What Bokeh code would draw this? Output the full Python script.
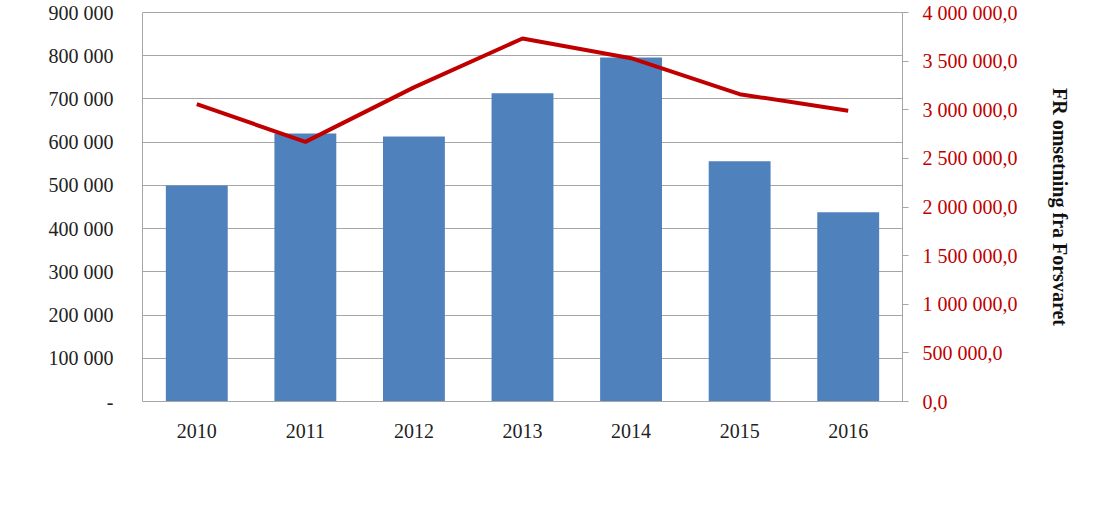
import math
from bokeh.plotting import figure
from bokeh.models import (Range1d, FactorRange, LinearAxis, FixedTicker, CustomJSTickFormatter,
                          Legend, LegendItem, Label, ColumnDataSource)
from bokeh.embed import file_html
from bokeh.resources import INLINE

years = ["2010", "2011", "2012", "2013", "2014", "2015", "2016"]
samfinansiert = [500000, 620000, 613000, 713000, 796000, 556000, 438000]
forsvarsrelatert = [3057000, 2670000, 3230000, 3733000, 3530000, 3160000, 2990000]
left_ticks = [0, 100000, 200000, 300000, 400000, 500000, 600000, 700000, 800000, 900000]
right_ticks = [0, 500000, 1000000, 1500000, 2000000, 2500000, 3000000, 3500000, 4000000]

FONT = "Liberation Serif"
BLUE = "#4F81BD"
RED = "#C00000"
GRID = "#A6A6A6"

src = ColumnDataSource(dict(year=years, sam=samfinansiert, fr=forsvarsrelatert))

p = figure(width=1086, height=490,
           x_range=FactorRange(factors=years, range_padding=0),
           y_range=Range1d(0, 900000),
           output_backend="svg", toolbar_location=None,
           min_border_left=142, min_border_top=12, min_border_right=184, min_border_bottom=89)
p.extra_y_ranges = {"r": Range1d(0, 4000000)}

p.outline_line_color = GRID
p.background_fill_color = "white"
p.xgrid.grid_line_color = None
p.ygrid.grid_line_color = GRID
p.ygrid.ticker = FixedTicker(ticks=left_ticks)

# left axis
ya = p.yaxis[0]
ya.ticker = FixedTicker(ticks=left_ticks)
ya.formatter = CustomJSTickFormatter(code="""
if (tick == 0) return '-';
return Math.round(tick).toString().replace(/\\B(?=(\\d{3})+(?!\\d))/g, ' ');
""")
ya.axis_line_color = None
ya.major_tick_line_color = None
ya.minor_tick_line_color = None
ya.major_label_text_font = FONT
ya.major_label_text_font_size = "20px"
ya.major_label_text_color = "#222222"
ya.major_label_standoff = 23

# bottom axis
xa = p.xaxis[0]
xa.axis_line_color = GRID
xa.major_tick_line_color = None
xa.minor_tick_line_color = None
xa.major_label_text_font = FONT
xa.major_label_text_font_size = "20px"
xa.major_label_text_color = "#222222"
xa.major_label_standoff = 16

# right axis
ra = LinearAxis(y_range_name="r", ticker=FixedTicker(ticks=right_ticks))
ra.formatter = CustomJSTickFormatter(code="""
return Math.round(tick).toString().replace(/\\B(?=(\\d{3})+(?!\\d))/g, ' ') + ',0';
""")
ra.axis_line_color = GRID
ra.major_tick_line_color = GRID
ra.major_tick_out = 6
ra.major_tick_in = 0
ra.minor_tick_line_color = None
ra.major_label_text_font = FONT
ra.major_label_text_font_size = "20px"
ra.major_label_text_color = RED
ra.major_label_standoff = 14
ra.axis_label = "FR omsetning fra Forsvaret"
ra.axis_label_text_font = FONT
ra.axis_label_text_font_size = "20px"
ra.axis_label_text_font_style = "bold"
ra.axis_label_text_color = "#111111"
ra.axis_label_standoff = 28
p.add_layout(ra, "right")

bars = p.vbar(x="year", top="sam", width=0.57, source=src, fill_color=BLUE, line_color=None)
line = p.line(x="year", y="fr", y_range_name="r", source=src, line_color=RED, line_width=4)

common = dict(padding=0, margin=0, border_line_color=None, background_fill_alpha=0,
              glyph_width=47, glyph_height=13, label_text_font=FONT, label_text_font_size="20px",
              label_text_color="#222222", label_standoff=5, label_height=20, spacing=0)
leg1 = Legend(items=[LegendItem(label="Samfinansiert", renderers=[bars])], location=(-30, -87), **common)
leg2 = Legend(items=[LegendItem(label="Forsvarsrelatert omsetning, fra Forsvaret", renderers=[line])],
              location=(262, -87), **common)
p.add_layout(leg1, "center")
p.add_layout(leg2, "center")

p.add_layout(Label(x=-128, y=147, x_units="screen", y_units="screen", text="Tusen kroner",
                   angle=math.pi / 2, text_align="center", text_baseline="middle",
                   text_font=FONT, text_font_size="20px", text_font_style="bold", text_color="#111111"))
p.add_layout(Label(x=798, y=-84, x_units="screen", y_units="screen", text="(KPI 2010 = 100)",
                   text_align="left", text_baseline="middle",
                   text_font=FONT, text_font_size="16px", text_color=RED))

open("out.html", "w").write(file_html(p, INLINE))
